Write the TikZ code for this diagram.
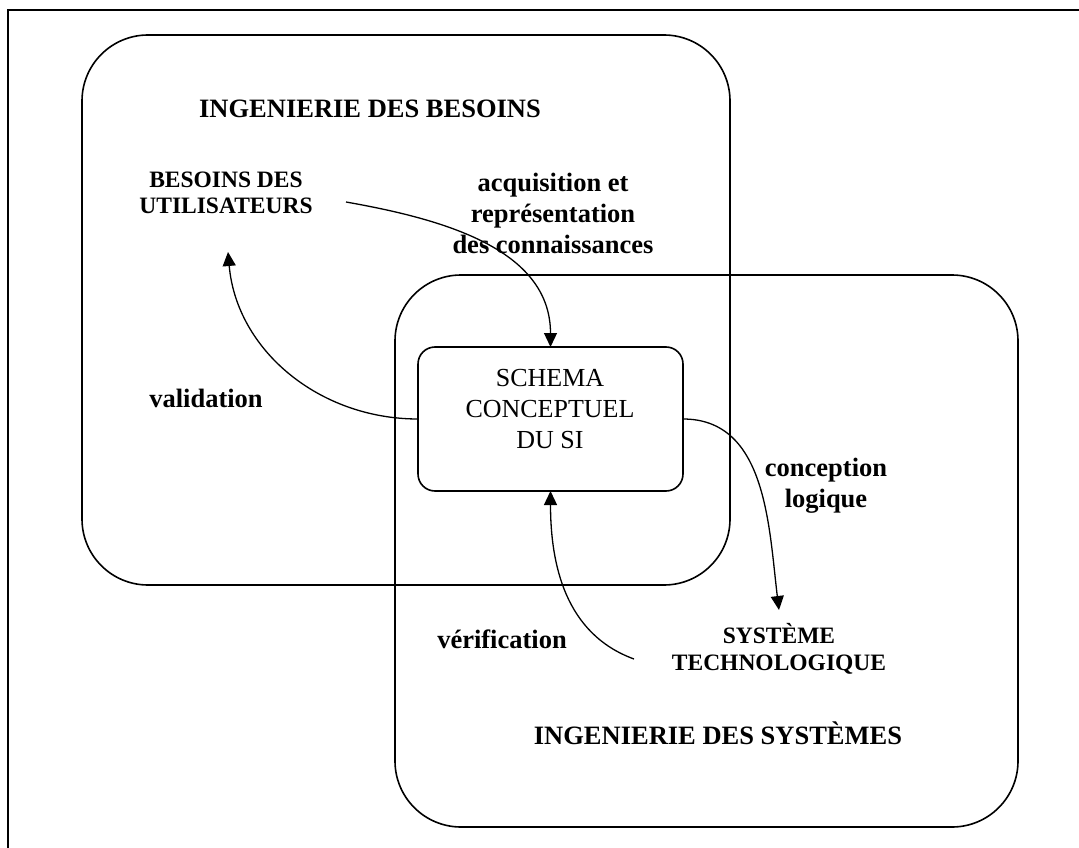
\documentclass[tikz,border=0pt]{standalone}
\usepackage{fontspec}
\setmainfont{Liberation Serif}
\usetikzlibrary{arrows.meta}

\begin{document}
\begin{tikzpicture}[x=1pt, y=1pt,
		zone_style/.style={draw=black, line width=1.6pt, rounded corners=66pt},
		schema_style/.style={draw=black, line width=1.6pt, rounded corners=17pt,
			minimum width=265pt, minimum height=144pt, inner sep=0pt, outer sep=0pt},
		label_style/.style={font=\fontsize{26.5}{31}\selectfont\bfseries, align=center, inner sep=0pt},
		small_style/.style={font=\fontsize{23.5}{26.5}\selectfont\bfseries, align=center, inner sep=0pt},
		text_style/.style={font=\fontsize{26}{31}\selectfont, align=center, inner sep=0pt},
		edge_style/.style={draw=black, line width=1.3pt, -{Triangle[length=14pt,width=13pt]}}]
		
		\useasboundingbox (0,0) rectangle (1079,-848);
		
		% cadre
		\draw[line width=2pt] (1079,-10) -- (8,-10) -- (8,-848);
		
		% les deux domaines
		\draw[zone_style] (82,-35) rectangle (730,-585);
		\draw[zone_style] (395,-275) rectangle (1018,-827);
		
		\node[label_style] (t_besoins) at (370,-109) {INGENIERIE DES BESOINS};
		\node[label_style] (t_systemes) at (718,-733) {INGENIERIE DES SYSTÈMES};
		
		\node[schema_style] (schema) at (550.5,-419) {};
		\node[text_style] (schema_txt) at (550,-409) {SCHEMA\\CONCEPTUEL\\DU SI};
		
		\node[small_style] (besoins) at (226,-193) {BESOINS DES\\UTILISATEURS};
		\node[small_style] (systeme) at (779,-649) {SYSTÈME\\TECHNOLOGIQUE};
		
		\node[label_style] (acquisition) at (553,-213) {acquisition et\\représentation\\des connaissances};
		\node[label_style] (validation) at (206,-398) {validation};
		\node[label_style] (conception) at (826,-486) {conception\\logique};
		\node[label_style] (verification) at (502,-639) {vérification};
		
		\coordinate (acq_start) at (346,-202);
		\coordinate (val_end) at (228,-252);
		\coordinate (conc_end) at (779,-610);
		\coordinate (ver_start) at (634,-659);
		
		\draw[edge_style] (acq_start) to[out=-10, in=90] (schema.north);
		\draw[edge_style] (schema.west) to[out=180, in=-85] (val_end);
		\draw[edge_style] (schema.east) to[out=0, in=97] (conc_end);
		\draw[edge_style] (ver_start) to[out=160, in=-90] (schema.south);
		
	\end{tikzpicture}
\end{document}
